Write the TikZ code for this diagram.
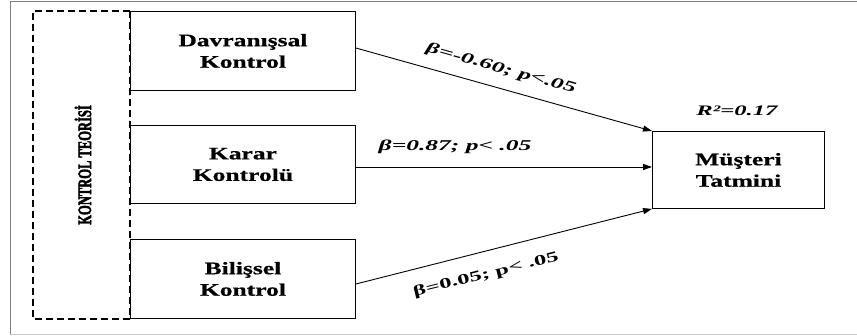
\documentclass[tikz,border=0pt]{standalone}
\usepackage{fontspec}
\setmainfont{Liberation Serif}
\newfontfamily\widefont[FakeStretch=1.45,FakeBold=0.6]{Liberation Serif}
\newfontfamily\coeffont[FakeStretch=1.7]{Liberation Serif}
\newfontfamily\heavyfont[FakeBold=3]{Liberation Serif}
\usetikzlibrary{arrows.meta}
\begin{document}
\begin{tikzpicture}[x=1pt,y=-1pt,
  box/.style={draw,line width=0.9pt,inner sep=0pt,align=center,
    font=\widefont\bfseries\fontsize{17.6}{21.5}\selectfont},
  coef/.style={font=\coeffont\bfseries\itshape\fontsize{15}{18}\selectfont,inner sep=1pt},
  link/.style={line width=0.9pt,-{Triangle[length=9pt,width=6pt]}},
  theory/.style={draw,line width=1.8pt,dash pattern=on 7pt off 4pt}]
\useasboundingbox (0,0) rectangle (857,336);
% page frame
\draw[gray,line width=1pt] (857,2) -- (10,2) -- (10,335);
\draw[gray!40,line width=1pt] (10,335) -- (857,335);
% dashed theory frame
\draw[theory] (130,11) -- (33,11) -- (33,319) -- (130,319) -- cycle;
\node[rotate=90,inner sep=0pt] (th) at (83,165)
  {\scalebox{0.66}[1]{\heavyfont\bfseries\fontsize{19}{22}\selectfont KONTROL TEORİSİ}};
% predictor boxes
\node[box,minimum width=225pt,minimum height=79pt,anchor=north west,fill=white] (d) at (130,11) {Davranışsal\\Kontrol};
\node[box,minimum width=225pt,minimum height=78pt,anchor=north west,fill=white] (k) at (130,125) {Karar\\Kontrolü};
\node[box,minimum width=225pt,minimum height=79pt,anchor=north west,fill=white] (b) at (130,239) {Bilişsel\\Kontrol};
% outcome box
\node[box,minimum width=172pt,minimum height=77pt,anchor=north west] (m) at (652,131) {Müşteri\\Tatmini};
\node[coef,font=\coeffont\bfseries\itshape\fontsize{14.5}{17}\selectfont] (r) at (737,111) {R²=0.17};
% paths
\draw[link] (d.east |- 0,48) -- (m.north west);
\draw[link] (k.east |- 0,167) -- (m.west |- 0,167);
\draw[link] (b.east |- 0,284) -- (m.south west);
% coefficients
\node[coef,rotate=-15.5] (c1) at (501,69) {β=-0.60; p<.05};
\node[coef] (c2) at (455,147) {β=0.87; p< .05};
\node[coef,font=\coeffont\bfseries\fontsize{14.5}{17}\selectfont,rotate=14] (c3) at (486,275) {β=0.05; p< .05};
\end{tikzpicture}
\end{document}
